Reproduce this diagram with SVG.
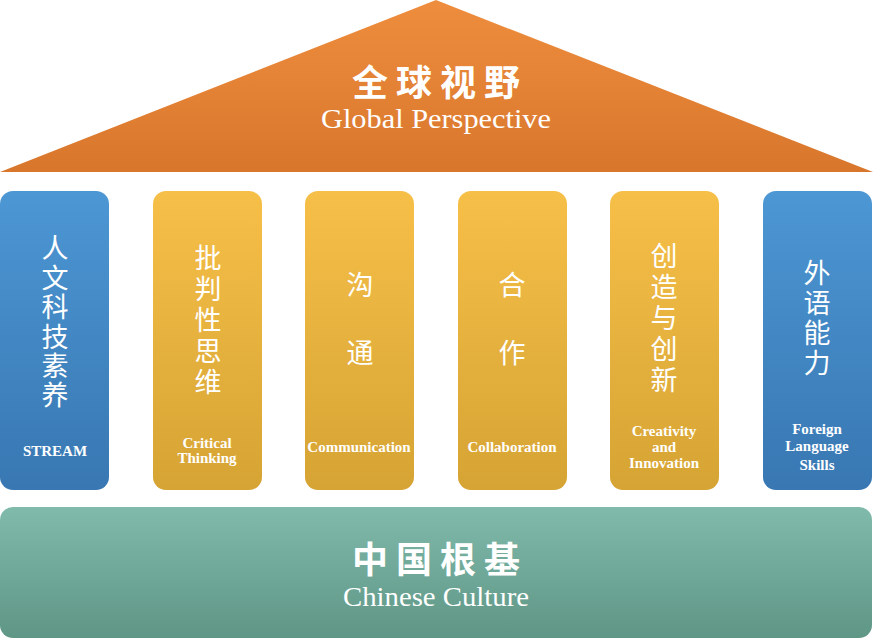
<svg xmlns="http://www.w3.org/2000/svg" width="873" height="641" viewBox="0 0 873 641">
<defs>
<linearGradient id="gOrange" x1="0" y1="0" x2="0" y2="1"><stop offset="0" stop-color="#EF8D3E"/><stop offset="1" stop-color="#D8772C"/></linearGradient>
<linearGradient id="gBlue" x1="0" y1="0" x2="0" y2="1"><stop offset="0" stop-color="#4C97D4"/><stop offset="1" stop-color="#3877B2"/></linearGradient>
<linearGradient id="gGold" x1="0" y1="0" x2="0" y2="1"><stop offset="0" stop-color="#F6BF48"/><stop offset="1" stop-color="#D6A434"/></linearGradient>
<linearGradient id="gTeal" x1="0" y1="0" x2="0" y2="1"><stop offset="0" stop-color="#80BAAB"/><stop offset="1" stop-color="#5F9686"/></linearGradient>
</defs>
<style>
.zh{font-family:"Noto Sans CJK SC",sans-serif;fill:#fff;text-anchor:middle}
.zhb{font-family:"Noto Sans CJK SC",sans-serif;font-weight:bold;fill:#fff;text-anchor:middle;font-size:36px;letter-spacing:8px}
.en{font-family:"Liberation Serif","DejaVu Serif",serif;fill:#fff;text-anchor:middle}
.enb{font-family:"Liberation Serif","DejaVu Serif",serif;fill:#fff;text-anchor:middle;font-weight:bold;font-size:15px}
.p{font-size:27px}
</style>
<rect width="873" height="641" fill="#fff"/>
<g id="roof">
<polygon points="436,0 873,172 0,172" fill="url(#gOrange)"/>
<text class="zhb" x="440" y="96">全球视野</text>
<text class="en" x="436" y="128" font-size="27" textLength="230" lengthAdjust="spacingAndGlyphs">Global Perspective</text>
</g>
<g id="pillar1">
<rect x="0" y="191" width="109" height="299" rx="13" fill="url(#gBlue)"/>
<text class="zh p"><tspan x="55" y="258">人</tspan><tspan x="55" y="288">文</tspan><tspan x="55" y="317">科</tspan><tspan x="55" y="347">技</tspan><tspan x="55" y="376">素</tspan><tspan x="55" y="405">养</tspan></text>
<text class="enb" x="55" y="456" font-size="16">STREAM</text>
</g>
<g id="pillar2">
<rect x="153" y="191" width="109" height="299" rx="13" fill="url(#gGold)"/>
<text class="zh p"><tspan x="208" y="268">批</tspan><tspan x="208" y="299">判</tspan><tspan x="208" y="330">性</tspan><tspan x="208" y="361">思</tspan><tspan x="208" y="392">维</tspan></text>
<text class="enb"><tspan x="207" y="448">Critical</tspan><tspan x="207" y="463">Thinking</tspan></text>
</g>
<g id="pillar3">
<rect x="305" y="191" width="109" height="299" rx="13" fill="url(#gGold)"/>
<text class="zh p"><tspan x="360" y="295">沟</tspan><tspan x="360" y="363">通</tspan></text>
<text class="enb" x="359" y="452" font-size="12">Communication</text>
</g>
<g id="pillar4">
<rect x="458" y="191" width="109" height="299" rx="13" fill="url(#gGold)"/>
<text class="zh p"><tspan x="512" y="295">合</tspan><tspan x="512" y="363">作</tspan></text>
<text class="enb" x="512" y="452" font-size="14">Collaboration</text>
</g>
<g id="pillar5">
<rect x="610" y="191" width="109" height="299" rx="13" fill="url(#gGold)"/>
<text class="zh p"><tspan x="664" y="266">创</tspan><tspan x="664" y="297">造</tspan><tspan x="664" y="328">与</tspan><tspan x="664" y="359">创</tspan><tspan x="664" y="390">新</tspan></text>
<text class="enb"><tspan x="664" y="436">Creativity</tspan><tspan x="664" y="452">and</tspan><tspan x="664" y="468">Innovation</tspan></text>
</g>
<g id="pillar6">
<rect x="763" y="191" width="109" height="299" rx="13" fill="url(#gBlue)"/>
<text class="zh p"><tspan x="817" y="283">外</tspan><tspan x="817" y="313">语</tspan><tspan x="817" y="343">能</tspan><tspan x="817" y="373">力</tspan></text>
<text class="enb"><tspan x="817" y="434">Foreign</tspan><tspan x="817" y="451">Language</tspan><tspan x="817" y="470">Skills</tspan></text>
</g>
<g id="base">
<rect x="0" y="507" width="872" height="131" rx="13" fill="url(#gTeal)"/>
<text class="zhb" x="440" y="573">中国根基</text>
<text class="en" x="436" y="606" font-size="27" textLength="186" lengthAdjust="spacingAndGlyphs">Chinese Culture</text>
</g>
<g id="connectors"/>
</svg>
